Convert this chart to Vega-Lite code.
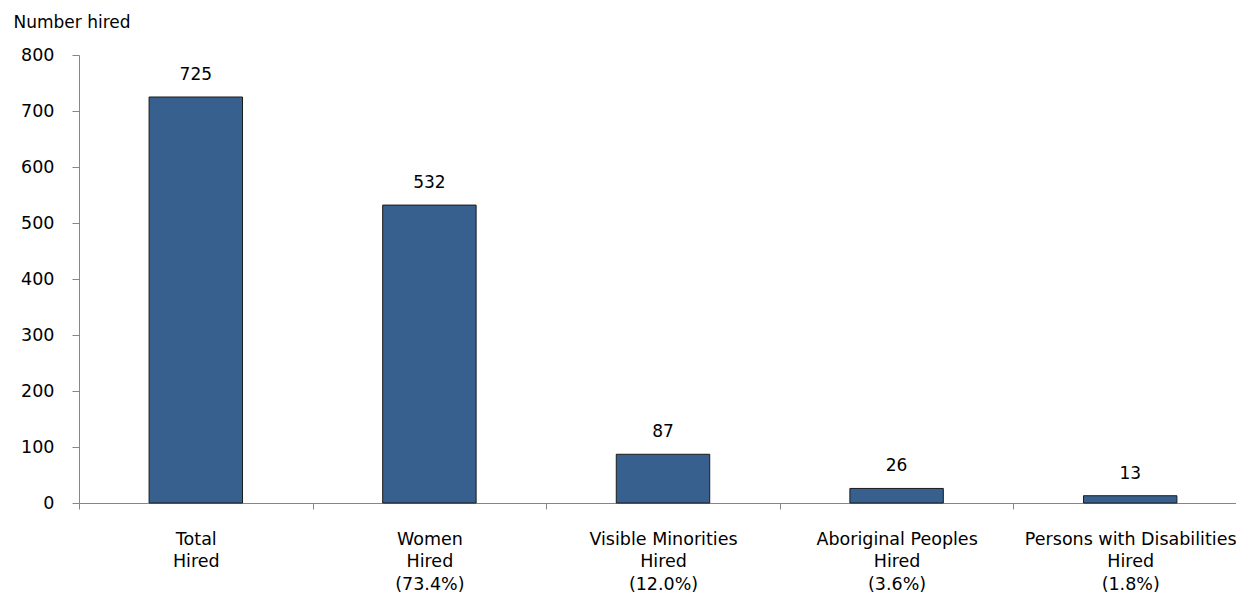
{
  "$schema": "https://vega.github.io/schema/vega-lite/v6.json",
  "autosize": "none",
  "width": 1157,
  "height": 448,
  "padding": {"left": 79, "top": 55, "right": 0, "bottom": 90},
  "background": "white",
  "config": {
    "view": {"stroke": null},
    "font": "DejaVu Sans"
  },
  "data": {
    "values": [
      {"group": "Total Hired", "hired": 725},
      {"group": "Women Hired (73.4%)", "hired": 532},
      {"group": "Visible Minorities Hired (12.0%)", "hired": 87},
      {"group": "Aboriginal Peoples Hired (3.6%)", "hired": 26},
      {"group": "Persons with Disabilities Hired (1.8%)", "hired": 13}
    ]
  },
  "encoding": {
    "x": {
      "field": "group",
      "type": "nominal",
      "sort": null,
      "scale": {"paddingInner": 0, "paddingOuter": 0, "range": [0, 1168]},
      "axis": {
        "title": null,
        "labelAngle": 0,
        "labelFont": "DejaVu Sans",
        "labelFontSize": 17.5,
        "labelColor": "#000000",
        "labelBaseline": "alphabetic",
        "labelLineHeight": 22.7,
        "labelPadding": 35,
        "labelLimit": 0,
        "labelExpr": "split(replace(replace(datum.label, ' Hired', '|Hired'), ' (', '|('), '|')",
        "tickBand": "extent",
        "tickSize": 6,
        "tickColor": "#868686",
        "domainColor": "#868686",
        "labelOverlap": false,
        "labelBound": false
      }
    },
    "y": {
      "field": "hired",
      "type": "quantitative",
      "scale": {"domain": [0, 800], "nice": false},
      "axis": {
        "title": "Number hired",
        "titleAngle": 0,
        "titleAlign": "left",
        "titleBaseline": "alphabetic",
        "titleX": -66,
        "titleY": -28,
        "titleFont": "DejaVu Sans",
        "titleFontSize": 17,
        "titleFontWeight": "normal",
        "titleColor": "#000000",
        "values": [0, 100, 200, 300, 400, 500, 600, 700, 800],
        "grid": false,
        "labelFont": "DejaVu Sans",
        "labelFontSize": 17.5,
        "labelColor": "#000000",
        "labelPadding": 18,
        "tickSize": 7,
        "tickColor": "#868686",
        "domainColor": "#868686"
      }
    }
  },
  "layer": [
    {
      "mark": {"type": "bar", "width": {"band": 0.4}, "fill": "#38608f", "stroke": "#1a1a1a", "strokeWidth": 1}
    },
    {
      "mark": {
        "type": "text",
        "baseline": "alphabetic",
        "dy": -17,
        "font": "DejaVu Sans",
        "fontSize": 17,
        "color": "#000000"
      },
      "encoding": {"text": {"field": "hired", "type": "quantitative"}}
    }
  ]
}
